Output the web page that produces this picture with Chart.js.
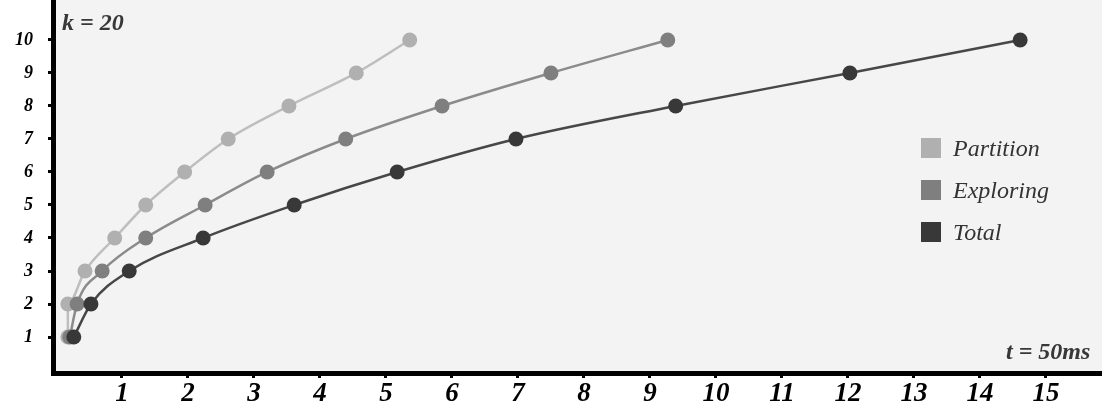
<!DOCTYPE html>
<html>
<head>
<meta charset="utf-8">
<script src="https://cdn.jsdelivr.net/npm/chart.js@4.4.1/dist/chart.umd.min.js"></script>
<style>
  html, body { margin: 0; padding: 0; background: #fff; }
  #wrap { position: relative; width: 1102px; height: 419px; }
  .note { position: absolute; font-family: "Liberation Serif", serif; font-style: italic; font-weight: bold; font-size: 24px; color: #383838; white-space: nowrap; }
  #legend { position: absolute; left: 921px; top: 137px; font-family: "Liberation Serif", serif; font-style: italic; font-size: 24px; color: #333; }
  #legend div { height: 42px; display: flex; align-items: flex-start; }
  #legend span.box { display: inline-block; width: 20px; height: 20px; margin-right: 12px; margin-top: 1px; }
  #legend span.lbl { line-height: 22px; }
</style>
</head>
<body>
<div id="wrap">
  <canvas id="grafico"></canvas>
  <div class="note" style="left:62px; top:9px;">k = 20</div>
  <div class="note" style="left:1006px; top:338px;">t = 50ms</div>
  <div id="legend"></div>
</div>
<script>
// eje y: 1..10, eje x: tiempo
const niveles = [1, 2, 3, 4, 5, 6, 7, 8, 9, 10];
const partition = [0.18, 0.18, 0.44, 0.89, 1.36, 1.95, 2.61, 3.53, 4.55, 5.36];
const exploring = [0.21, 0.32, 0.70, 1.36, 2.26, 3.20, 4.39, 5.85, 7.50, 9.27];
const total = [0.27, 0.53, 1.11, 2.23, 3.61, 5.17, 6.97, 9.39, 12.03, 14.61];
const xTicks = [1, 2, 3, 4, 5, 6, 7, 8, 9, 10, 11, 12, 13, 14, 15];
const yTicks = [1, 2, 3, 4, 5, 6, 7, 8, 9, 10];

const series = [
    { label: 'Partition', data: partition, point: '#b0b0b0', line: '#bebebe' },
    { label: 'Exploring', data: exploring, point: '#7f7f7f', line: '#8b8b8b' },
    { label: 'Total', data: total, point: '#383838', line: '#474747' }
];

const legend = document.getElementById('legend');
series.forEach(s => {
    const row = document.createElement('div');
    row.innerHTML = `<span class="box" style="background:${s.point}"></span><span class="lbl">${s.label}</span>`;
    legend.appendChild(row);
});

// fondo gris solo en el area del grafico
const fondo = {
    id: 'fondo',
    beforeDraw(chart) {
        const { ctx, chartArea } = chart;
        ctx.save();
        ctx.fillStyle = '#f3f3f3';
        ctx.fillRect(chartArea.left, chartArea.top, chartArea.right - chartArea.left, chartArea.bottom - chartArea.top);
        ctx.restore();
    }
};

const datasets = series.slice().reverse().map(s => ({
    label: s.label,
    data: s.data.map((x, i) => ({ x: x, y: niveles[i] })),
    showLine: true,
    cubicInterpolationMode: 'monotone',
    borderColor: s.line,
    borderWidth: 2.5,
    pointRadius: 7.5,
    pointBackgroundColor: s.point,
    pointBorderWidth: 0,
    pointHoverRadius: 7.5
}));

const serif = "'Liberation Serif', serif";

new Chart(document.getElementById('grafico'), {
    type: 'scatter',
    data: { datasets: datasets },
    plugins: [fondo],
    options: {
        responsive: true,
        maintainAspectRatio: false,
        animation: false,
        layout: { padding: 0, autoPadding: false },
        plugins: { legend: { display: false }, tooltip: { enabled: false } },
        scales: {
            x: {
                type: 'linear',
                min: -0.045,
                max: 15.85,
                afterBuildTicks: (axis) => { axis.ticks = xTicks.map(v => ({ value: v })); },
                afterFit: (axis) => {
                    axis.height = 46;
                    axis.paddingLeft = 0;
                    axis.paddingRight = 0;
                },
                grid: { drawOnChartArea: false, color: '#000', lineWidth: 3, tickLength: 5 },
                border: { color: '#000', width: 5 },
                ticks: {
                    color: '#000',
                    padding: 0,
                    maxRotation: 0,
                    font: { family: serif, size: 27, style: 'italic', weight: 'bold' }
                }
            },
            y: {
                type: 'linear',
                min: -0.09,
                max: 11.21,
                afterBuildTicks: (axis) => { axis.ticks = yTicks.map(v => ({ value: v })); },
                afterFit: (axis) => {
                    axis.width = 53;
                    axis.paddingTop = 0;
                    axis.paddingBottom = 0;
                },
                grid: { drawOnChartArea: false, color: '#000', lineWidth: 3, tickLength: 5 },
                border: { color: '#000', width: 5 },
                ticks: {
                    color: '#000',
                    padding: 15,
                    font: { family: serif, size: 18, style: 'italic', weight: 'bold' }
                }
            }
        }
    }
});
</script>
</body>
</html>
